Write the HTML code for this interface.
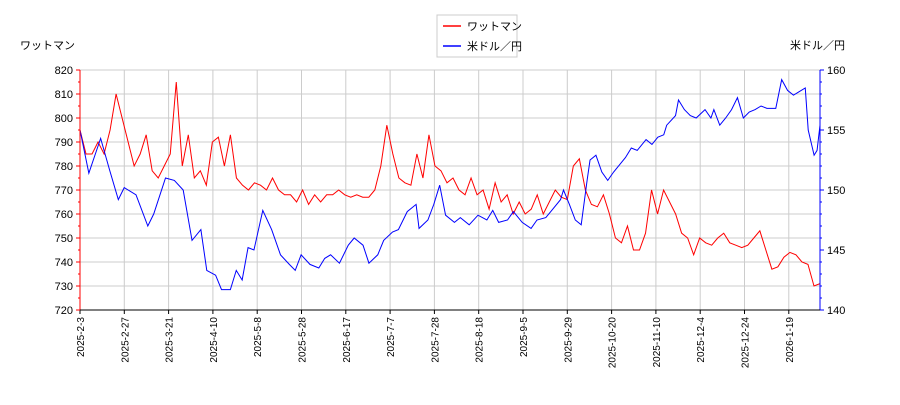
<!DOCTYPE html>
<html><head><meta charset="utf-8">
<style>
body{margin:0;background:#fff;}
svg text{font-family:"Liberation Sans","Noto Sans CJK JP",sans-serif;}
</style></head>
<body>
<svg id="chart" width="900" height="400" xmlns="http://www.w3.org/2000/svg">
<g id="grid"></g>
<g id="lines"></g>
<g id="axes"></g>
<text x="20" y="49" font-size="11">ワットマン</text>
<text x="790" y="49" font-size="11">米ドル／円</text>
<g>
<rect x="437" y="15" width="80" height="42" fill="#fff" stroke="#ccc"/>
<line x1="443" y1="26" x2="461" y2="26" stroke="red" stroke-width="1.5"/>
<text x="467" y="30" font-size="11">ワットマン</text>
<line x1="443" y1="46" x2="461" y2="46" stroke="blue" stroke-width="1.5"/>
<text x="467" y="50" font-size="11">米ドル／円</text>
</g>
</svg>
<script>
const xTickLabels=["2025-2-3","2025-2-27","2025-3-21","2025-4-10","2025-5-8","2025-5-28","2025-6-17","2025-7-7","2025-7-28","2025-8-18","2025-9-5","2025-9-29","2025-10-20","2025-11-10","2025-12-4","2025-12-24","2026-1-19"];
const leftTicks=[720,730,740,750,760,770,780,790,800,810,820];
const rightTicks=[140,145,150,155,160];
const wattman=[795,785,785,790,785,795,810,800,790,780,785,793,778,775,780,785,815,780,793,775,778,772,790,792,780,793,775,772,770,773,772,770,775,770,768,768,765,770,764,768,765,768,768,770,768,767,768,767,767,770,780,797,785,775,773,772,785,775,793,780,778,773,775,770,768,775,768,770,762,773,765,768,760,765,760,762,768,760,765,770,767,766,780,783,770,764,763,768,760,750,748,755,745,745,752,770,760,770,765,760,752,750,743,750,748,747,750,752,748,747,746,747,750,753,745,737,738,742,744,743,740,739,730,731];
const usdjpyDay=[0,3,7,10,13,15,19,23,25,29,32,35,38,41,43,46,48,51,53,55,57,59,62,65,68,71,73,75,78,81,83,85,88,91,93,96,98,101,103,106,108,111,114,115,118,120,122,124,127,129,132,135,138,140,142,145,147,150,153,155,158,160,163,164,166,168,170,172,173,175,177,179,181,183,185,187,189,192,194,196,198,199,202,203,205,207,209,212,214,215,217,219,221,223,225,227,229,231,233,236,238,240,242,244,246,247,249,250,251];
const usdjpy=[155,151.4,154.3,151.7,149.2,150.2,149.6,147,148,151,150.8,150,145.8,146.7,143.3,142.9,141.7,141.7,143.3,142.5,145.2,145,148.3,146.7,144.6,143.8,143.3,144.6,143.8,143.5,144.3,144.6,143.9,145.4,146,145.4,143.9,144.6,145.8,146.5,146.7,148.2,148.8,146.8,147.5,148.8,150.4,147.9,147.3,147.7,147.1,147.9,147.5,148.3,147.3,147.5,148.2,147.3,146.8,147.5,147.7,148.3,149.2,150,148.8,147.5,147.1,150.8,152.5,152.9,151.5,150.8,151.5,152.1,152.7,153.5,153.3,154.2,153.8,154.4,154.6,155.4,156.2,157.5,156.7,156.2,156,156.7,156,156.7,155.4,156,156.7,157.7,156,156.5,156.7,157,156.8,156.8,159.2,158.3,157.9,158.2,158.5,155,152.9,153.3,155.4];
const X0=80,X1=820,Y0=70,Y1=310,DAYS=251;
const yL=v=>Y1-(v-720)/(820-720)*(Y1-Y0);
const yR=v=>Y1-(v-140)/(160-140)*(Y1-Y0);
const xTick=i=>X0+i*44.3;
const xIdx=(i,n)=>X0+i*(X1-X0)/(n-1);
const xDay=d=>X0+d*(X1-X0)/DAYS;
const NS="http://www.w3.org/2000/svg";
function mk(tag,attrs,parent){const e=document.createElementNS(NS,tag);for(const k in attrs)e.setAttribute(k,attrs[k]);parent.appendChild(e);return e;}
const grid=document.getElementById('grid'),axes=document.getElementById('axes'),lines=document.getElementById('lines');
mk('rect',{x:X0,y:Y0,width:X1-X0,height:Y1-Y0,fill:'#fff'},grid);
xTickLabels.forEach((l,i)=>{const x=xTick(i);
 const g=mk('line',{x1:x,y1:Y0,x2:x,y2:Y1,stroke:'#ccc'},grid);
 
 
 mk('line',{x1:x,y1:Y1,x2:x,y2:Y1+4,stroke:'#000'},axes);
 const t=mk('text',{x:0,y:0,'font-size':10,'text-anchor':'end',transform:`translate(${x+4},${Y1+7}) rotate(-90)`},axes);
 t.textContent=l;
 
 
});
leftTicks.forEach(v=>{const y=yL(v);
 const g=mk('line',{x1:X0,y1:y,x2:X1,y2:y,stroke:'#ccc'},grid);
 
 
 mk('line',{x1:X0-4,y1:y,x2:X0,y2:y,stroke:'red'},axes);
 const t=mk('text',{x:X0-7,y:y+4,'font-size':11,'text-anchor':'end'},axes);
 t.textContent=v;
 
 
});
for(let v=725;v<820;v+=10){mk('line',{x1:X0-2,y1:yL(v),x2:X0,y2:yL(v),stroke:'red'},axes);}
rightTicks.forEach(v=>{const y=yR(v);
 mk('line',{x1:X1,y1:y,x2:X1+4,y2:y,stroke:'blue'},axes);
 const t=mk('text',{x:X1+7,y:y+4,'font-size':11},axes);
 t.textContent=v;
 
 
});
for(let v=141;v<160;v+=1){if(v%5!==0)mk('line',{x1:X1,y1:yR(v),x2:X1+2,y2:yR(v),stroke:'blue'},axes);}
mk('line',{x1:X0,y1:Y0,x2:X0,y2:Y1,stroke:'red'},axes);
mk('line',{x1:X1,y1:Y0,x2:X1,y2:Y1,stroke:'blue'},axes);
mk('line',{x1:X0,y1:Y1,x2:X1,y2:Y1,stroke:'#000'},axes);
mk('line',{x1:X0,y1:Y0,x2:X1,y2:Y0,stroke:'#ccc'},grid);
const r=mk('polyline',{points:wattman.map((v,i)=>xIdx(i,wattman.length)+','+yL(v)).join(' '),fill:'none',stroke:'red','stroke-width':1},lines);


const b=mk('polyline',{points:usdjpy.map((v,i)=>xDay(usdjpyDay[i])+','+yR(v)).join(' '),fill:'none',stroke:'blue','stroke-width':1},lines);


</script>
</body></html>
